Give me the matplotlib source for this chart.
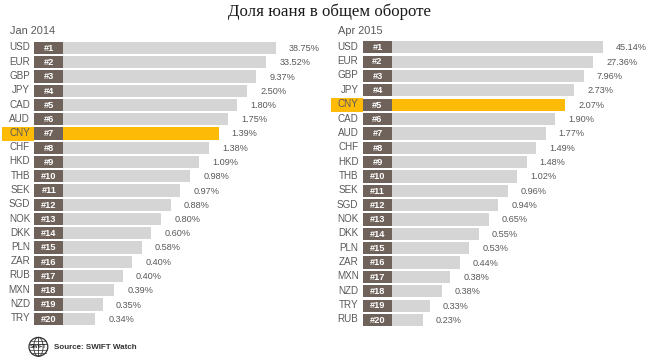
import matplotlib
matplotlib.use("Agg")
import numpy as np
import matplotlib.pyplot as plt
from matplotlib.patches import Ellipse

TITLE = "Доля юаня в общем обороте"
SOURCE = "Source: SWIFT Watch"

left_title = "Jan 2014"
left_codes = ["USD", "EUR", "GBP", "JPY", "CAD", "AUD", "CNY", "CHF", "HKD", "THB",
              "SEK", "SGD", "NOK", "DKK", "PLN", "ZAR", "RUB", "MXN", "NZD", "TRY"]
left_labels = ["38.75%", "33.52%", "9.37%", "2.50%", "1.80%", "1.75%", "1.39%", "1.38%", "1.09%", "0.98%",
               "0.97%", "0.88%", "0.80%", "0.60%", "0.58%", "0.40%", "0.40%", "0.39%", "0.35%", "0.34%"]
# bar lengths are not proportional to the shares, so they are read off the picture
left_lengths = [212.5, 203, 193, 184, 174, 165, 155.5, 146, 136, 127,
                117, 107.5, 98, 88, 78.5, 69, 59.5, 51, 39.5, 32]

right_title = "Apr 2015"
right_codes = ["USD", "EUR", "GBP", "JPY", "CNY", "CAD", "AUD", "CHF", "HKD", "THB",
               "SEK", "SGD", "NOK", "DKK", "PLN", "ZAR", "MXN", "NZD", "TRY", "RUB"]
right_labels = ["45.14%", "27.36%", "7.96%", "2.73%", "2.07%", "1.90%", "1.77%", "1.49%", "1.48%", "1.02%",
                "0.96%", "0.94%", "0.65%", "0.55%", "0.53%", "0.44%", "0.38%", "0.38%", "0.33%", "0.23%"]
right_lengths = [210.7, 201, 191.7, 182, 172.7, 163, 153.4, 144, 134.4, 125,
                 115.4, 106, 96.4, 86.7, 77, 67.4, 58, 49.4, 37.4, 30.4]

GREY = "#d5d5d5"
BADGE = "#6f625b"
GOLD = "#fdbb07"
TEXT = "#595959"

plt.rcParams["font.family"] = ["Liberation Sans", "DejaVu Sans"]


def draw_panel(ax, title, codes, labels, lengths, x0, badge_x, hl_x, y0, dy):
    ys = y0 + dy * np.arange(len(codes))
    colors = [GOLD if c == "CNY" else GREY for c in codes]
    ax.barh(ys, lengths, height=12.2, left=x0, color=colors)
    ax.barh(ys, x0 - 0.8 - badge_x, height=12.2, left=badge_x, color=BADGE)

    hl = codes.index("CNY")
    ax.barh(ys[hl], badge_x - hl_x, height=14, left=hl_x, color=GOLD)

    for i in range(len(codes)):
        ax.text(badge_x - 4.2, ys[i] - 0.5, codes[i], ha="right", va="center",
                fontsize=7.1, color=TEXT)
        ax.text((badge_x + x0) / 2, ys[i] + 0.3, "#%d" % (i + 1), ha="center", va="center",
                fontsize=6.7, color="white", fontweight="bold")
        ax.text(x0 + lengths[i] + 13, ys[i] + 0.5, labels[i], ha="left", va="center",
                fontsize=6.6, color=TEXT)
    ax.text(hl_x + 7.5, 31.5, title, ha="left", va="center", fontsize=7.9, color=TEXT)


def draw_globe(ax, cx, cy, r):
    ax.add_patch(Ellipse((cx, cy), 2 * r, 2 * r, fc="white", ec="#333333", lw=0.9))
    ax.add_patch(Ellipse((cx, cy), r, 2 * r, fc="none", ec="#333333", lw=0.6))
    ax.plot([cx, cx], [cy - r, cy + r], color="#333333", lw=0.6)
    for dy in [-6, -3, 3, 6]:
        half = np.sqrt(r ** 2 - dy ** 2)
        ax.plot([cx - half, cx + half], [cy + dy, cy + dy], color="#333333", lw=0.5)
    ax.text(cx, cy, "SWIFT", ha="center", va="center", fontsize=3.8, color="#222222",
            fontweight="bold")


def main():
    fig = plt.figure(figsize=(6.5, 3.6), dpi=100)
    ax = fig.add_axes([0, 0, 1, 1])
    ax.set_xlim(0, 650)
    ax.set_ylim(360, 0)
    ax.axis("off")

    ax.text(329, 12, TITLE, ha="center", va="center", fontsize=12.2,
            family=["Liberation Serif"], color="#1a1a1a")

    draw_panel(ax, left_title, left_codes, left_labels, left_lengths, 63.3, 34.3, 2, 48, 14.25)
    draw_panel(ax, right_title, right_codes, right_labels, right_lengths, 392.3, 362.7, 331, 47.3, 14.35)

    draw_globe(ax, 38.4, 346.8, 9.4)
    ax.text(54.5, 347.5, SOURCE, ha="left", va="center", fontsize=5.8,
            color="#333333", fontweight="bold")

    plt.savefig("out.png", dpi=100)


if __name__ == "__main__":
    main()
